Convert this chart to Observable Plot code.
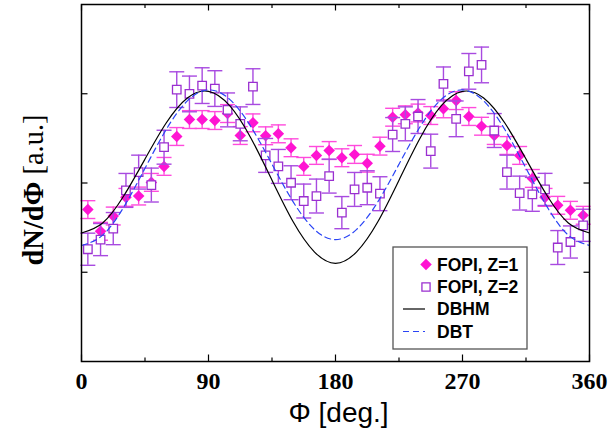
<!DOCTYPE html>
<html><head><meta charset="utf-8">
<script src="https://cdn.jsdelivr.net/npm/d3@7"></script>
<script src="https://cdn.jsdelivr.net/npm/@observablehq/plot@0.6"></script>
<style>body{margin:0;background:#fff}#chart svg{display:block}</style>
</head><body><div id="chart"></div>
<script>
// azimuthal angle of data bins [deg]
const phi = [4.5,13.5,22.5,31.5,40.5,49.5,58.5,67.5,76.5,85.5,94.5,103.5,112.5,121.5,130.5,139.5,148.5,157.5,166.5,175.5,184.5,193.5,202.5,211.5,220.5,229.5,238.5,247.5,256.5,265.5,274.5,283.5,292.5,301.5,310.5,319.5,328.5,337.5,346.5,355.5];
// FOPI Z=1
const z1 = [1.702,1.459,1.630,1.839,1.854,2.007,2.186,2.521,2.711,2.711,2.700,2.778,2.532,2.674,2.529,2.551,2.395,2.186,2.309,2.364,2.283,2.320,2.222,2.413,2.737,2.764,2.784,2.756,2.831,2.923,2.745,2.636,2.532,2.420,2.309,2.051,1.839,1.750,1.694,1.638];
const z1Err = [0.10,0.10,0.10,0.10,0.10,0.10,0.10,0.10,0.10,0.10,0.10,0.10,0.10,0.10,0.10,0.10,0.10,0.10,0.10,0.10,0.10,0.10,0.10,0.10,0.10,0.10,0.10,0.10,0.10,0.10,0.10,0.10,0.10,0.10,0.10,0.10,0.10,0.10,0.10,0.10];
// FOPI Z=2
const z2 = [1.258,1.366,1.489,1.917,2.122,1.977,2.401,3.046,2.998,3.091,3.058,2.819,2.663,3.080,2.309,2.186,2.003,1.798,1.854,2.077,1.668,1.928,1.947,1.880,2.543,2.663,2.745,2.357,3.110,2.719,3.251,3.323,2.588,2.122,1.887,1.873,1.928,1.277,1.339,1.526];
const z2Err = [0.18,0.18,0.18,0.19,0.19,0.19,0.19,0.20,0.20,0.20,0.20,0.19,0.19,0.20,0.19,0.19,0.19,0.19,0.19,0.19,0.18,0.19,0.19,0.19,0.19,0.19,0.19,0.19,0.19,0.20,0.20,0.20,0.19,0.19,0.19,0.19,0.18,0.19,0.18,0.18];
// model curves
const curvePhi = [0,15,30,45,60,75,90,105,120,135,150,165,180,195,210,225,240,255,270,285,300,315,330,345,360];
const dbhm = [1.440,1.552,1.857,2.268,2.672,2.953,3.027,2.866,2.505,2.032,1.566,1.229,1.100,1.229,1.566,2.032,2.505,2.866,3.027,2.953,2.672,2.268,1.857,1.552,1.440];
const dbt = [1.300,1.416,1.732,2.165,2.599,2.920,3.043,2.937,2.632,2.211,1.789,1.480,1.366,1.480,1.789,2.211,2.632,2.937,3.043,2.920,2.599,2.165,1.732,1.416,1.300];
const xTicks = [0,90,180,270,360];
const xMinor = [45,135,225,315];
const yTicks = [1,2,3];
const yDomain = [0,4];
const xLabel = "Φ [deg.]";
const yLabelBold = "dN/dΦ";
const yLabelRest = " [a.u.]";
const legendLabels = ["FOPI, Z=1","FOPI, Z=2","DBHM","DBT"];

const C1 = "#ff14d2", C1bar = "#ff4adc";
const C2 = "#9a2fd0", C2bar = "#a84ae0";
const CBLUE = "#2a44f5";

const rows1 = phi.map((p,i)=>({phi:p, v:z1[i], e:z1Err[i]}));
const rows2 = phi.map((p,i)=>({phi:p, v:z2[i], e:z2Err[i]}));
const curves = curvePhi.map((p,i)=>({phi:p, hm:dbhm[i], bt:dbt[i]}));

const hcap = {draw(ctx, size){const w=Math.sqrt(size/Math.PI); ctx.moveTo(-w,0); ctx.lineTo(w,0);}};
const tickUp = {draw(ctx, size){const w=Math.sqrt(size/Math.PI); ctx.moveTo(0,0); ctx.lineTo(0,-w);}};
const tickDown = {draw(ctx, size){const w=Math.sqrt(size/Math.PI); ctx.moveTo(0,0); ctx.lineTo(0,w);}};
const tickRight = {draw(ctx, size){const w=Math.sqrt(size/Math.PI); ctx.moveTo(0,0); ctx.lineTo(w,0);}};
const tickLeft = {draw(ctx, size){const w=Math.sqrt(size/Math.PI); ctx.moveTo(0,0); ctx.lineTo(-w,0);}};

const chart = Plot.plot({
  width: 609, height: 431,
  marginLeft: 81, marginRight: 20, marginTop: 4, marginBottom: 70,
  x: {domain: [0,360]},
  y: {domain: yDomain},
  style: {background: "#fff", overflow: "visible"},
  marks: [
    // Z=1 error bars
    Plot.ruleX(rows1, {x: "phi", y1: d=>d.v-d.e, y2: d=>d.v+d.e, stroke: C1bar, strokeWidth: 1.4}),
    Plot.dot(rows1, {x: "phi", y: d=>d.v+d.e, symbol: hcap, r: 7.5, stroke: C1bar, strokeWidth: 1.4}),
    Plot.dot(rows1, {x: "phi", y: d=>d.v-d.e, symbol: hcap, r: 7.5, stroke: C1bar, strokeWidth: 1.4}),
    Plot.dot(rows1, {x: "phi", y: "v", symbol: "diamond2", r: 5.2, fill: C1, stroke: "none"}),
    // Z=2 error bars
    Plot.ruleX(rows2, {x: "phi", y1: d=>d.v-d.e, y2: d=>d.v+d.e, stroke: C2bar, strokeWidth: 1.4}),
    Plot.dot(rows2, {x: "phi", y: d=>d.v+d.e, symbol: hcap, r: 7.5, stroke: C2bar, strokeWidth: 1.4}),
    Plot.dot(rows2, {x: "phi", y: d=>d.v-d.e, symbol: hcap, r: 7.5, stroke: C2bar, strokeWidth: 1.4}),
    Plot.dot(rows2, {x: "phi", y: "v", symbol: "square", r: 4.8, fill: "#fff", stroke: C2, strokeWidth: 1.3}),
    // model curves
    Plot.line(curves, {x: "phi", y: "hm", curve: "natural", stroke: "#000", strokeWidth: 1.2}),
    Plot.line(curves, {x: "phi", y: "bt", curve: "natural", stroke: CBLUE, strokeWidth: 1.2, strokeDasharray: "6,4"}),
    // ticks (inward)
    Plot.dot(xTicks, {x: d=>d, y: yDomain[0], symbol: tickUp, r: 7, stroke: "#000", strokeWidth: 1.2}),
    Plot.dot(xMinor, {x: d=>d, y: yDomain[0], symbol: tickUp, r: 4, stroke: "#000", strokeWidth: 1.2}),
    Plot.dot(xTicks, {x: d=>d, y: yDomain[1], symbol: tickDown, r: 6, stroke: "#000", strokeWidth: 1.2}),
    Plot.dot(xMinor, {x: d=>d, y: yDomain[1], symbol: tickDown, r: 3.5, stroke: "#000", strokeWidth: 1.2}),
    Plot.dot(yTicks, {y: d=>d, x: 0, symbol: tickRight, r: 6, stroke: "#000", strokeWidth: 1.2}),
    Plot.dot(yTicks, {y: d=>d, x: 360, symbol: tickLeft, r: 6, stroke: "#000", strokeWidth: 1.2}),
    Plot.frame({stroke: "#000", strokeWidth: 1.5}),
    Plot.axisX(xTicks, {anchor: "bottom", tickSize: 0, tickPadding: 10, fontSize: 24, fontWeight: "bold", fontFamily: "Liberation Serif", fill: "#000", label: null}),
    Plot.axisY({ticks: [], label: null}),
    Plot.text([xLabel], {frameAnchor: "bottom", dy: 60, dx: 3, text: d=>d, fontSize: 28, fontFamily: "Liberation Sans", fill: "#000"})
  ]
});
document.getElementById("chart").appendChild(chart);

// y axis title with mixed weights
const svg = d3.select(chart);
const yt = svg.append("text")
  .attr("transform", "translate(43,190) rotate(-90)")
  .attr("text-anchor", "middle")
  .attr("font-family", "Liberation Serif")
  .attr("font-size", 28.5)
  .attr("fill", "#000");
yt.append("tspan").attr("font-weight", "bold").text(yLabelBold);
yt.append("tspan").text(yLabelRest);

// legend
const lg = svg.append("g").attr("text-anchor", "start");
lg.append("rect").attr("x", 393).attr("y", 247).attr("width", 134).attr("height", 102)
  .attr("fill", "#fff").attr("stroke", "#555").attr("stroke-width", 1.3);
const rowsY = [264.5, 287, 309, 331.5];
const sx = 426;
lg.append("path").attr("d", d3.symbol(d3.symbolDiamond2, Math.PI*5.2*5.2)()).attr("transform", `translate(${sx},${rowsY[0]})`).attr("fill", C1);
lg.append("path").attr("d", d3.symbol(d3.symbolSquare, Math.PI*4.6*4.6)()).attr("transform", `translate(${sx},${rowsY[1]})`).attr("fill", "#fff").attr("stroke", C2).attr("stroke-width", 1.3);
lg.append("line").attr("x1", 403).attr("x2", 425).attr("y1", rowsY[2]).attr("y2", rowsY[2]).attr("stroke", "#000").attr("stroke-width", 1.2);
lg.append("line").attr("x1", 403).attr("x2", 425).attr("y1", rowsY[3]).attr("y2", rowsY[3]).attr("stroke", CBLUE).attr("stroke-width", 1.2).attr("stroke-dasharray", "6,4");
legendLabels.forEach((t,i)=>{
  lg.append("text").attr("x", 437).attr("y", rowsY[i]).attr("dy", "0.36em")
    .attr("text-anchor", "start")
    .attr("font-family", "Liberation Sans").attr("font-weight", "bold").attr("font-size", 17.5)
    .attr("fill", "#000").text(t);
});
</script>
</body></html>
